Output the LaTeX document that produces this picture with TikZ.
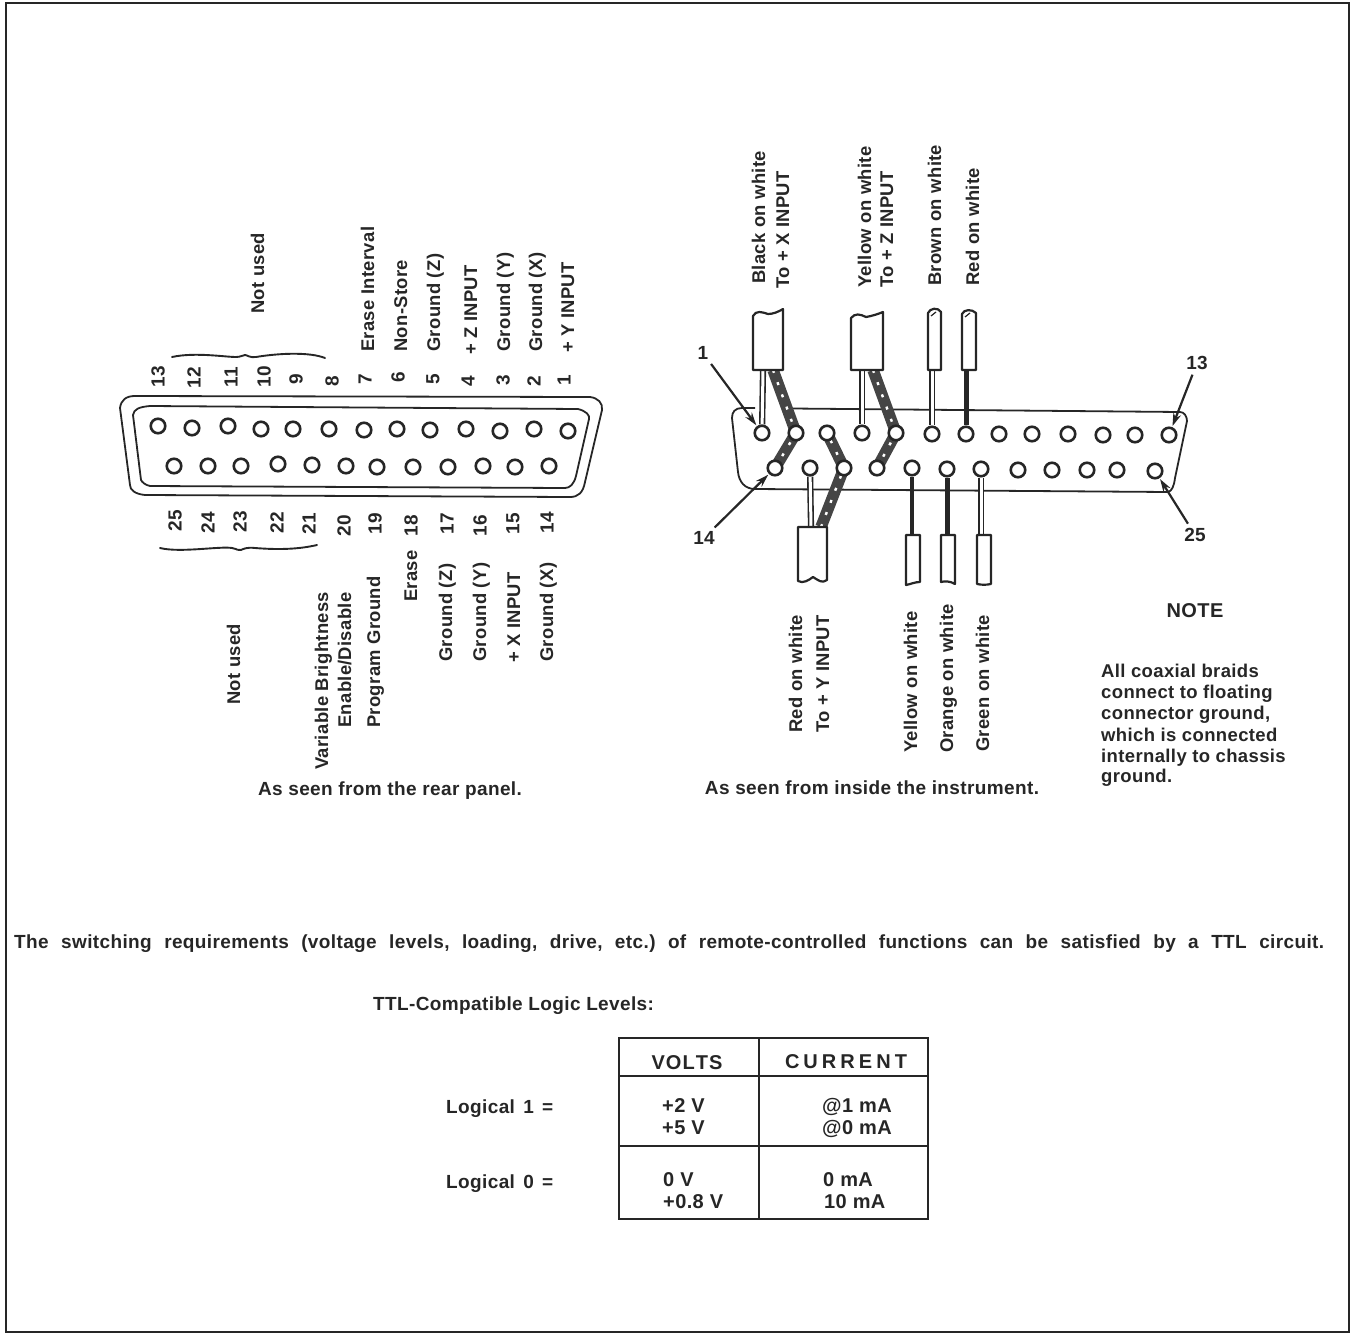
\documentclass[tikz,border=0pt]{standalone}
\usepackage{fontspec}
\setmainfont[LetterSpace=2]{Liberation Sans}
\usetikzlibrary{arrows.meta}
\pgfdeclarelayer{back}
\pgfsetlayers{back,main}
\definecolor{ink}{HTML}{262626}
\definecolor{braidc}{HTML}{454545}
\newcommand\fsz[1]{\fontsize{#1}{#1}\selectfont\bfseries\frenchspacing}
\tikzset{
  ink line/.style={draw=ink,line width=1.8pt,line join=round},
  pin/.style={circle,draw=ink,fill=white,line width=2.6pt,minimum size=14.5pt,inner sep=0pt},
  vlab/.style={rotate=90,anchor=west,inner sep=0pt,text=ink,font=\fsz{18.4},text height=14pt,text depth=0pt},
  num/.style={rotate=90,anchor=center,inner sep=0pt,text=ink,font=\fsz{19}},
  hlab/.style={anchor=west,inner sep=0pt,text=ink,font=\fsz{19},text height=13pt,text depth=0pt},
  nlab/.style={hlab,font=\fsz{18.5}},
  tlab/.style={hlab,font=\fsz{20}},
  clab/.style={anchor=center,inner sep=0pt,text=ink,font=\fsz{19},text height=13pt,text depth=0pt},
  tag/.style={anchor=center,inner sep=1pt,text=ink,font=\fsz{19}},
  lead/.style={draw=ink,line width=2.2pt,-{Stealth[length=13pt,width=8pt]},shorten <=4pt,shorten >=1pt},
  dwire/.style={draw=ink,line width=1.6pt,double=white,double distance=3pt},
  swire/.style={draw=ink,line width=5pt},
  cablebody/.style={draw=ink,fill=white,line width=2.2pt,line join=round},
}
\newcommand\braid[1]{%
  \draw[braidc,line width=11.5pt,line join=round] #1;
  \draw[white,line width=2.4pt,dash pattern=on 3pt off 10pt] #1;}
\begin{document}
\begin{tikzpicture}[x=1pt,y=-1pt]
\useasboundingbox (0,0) rectangle (1354,1335);
% frame
\draw[ink,line width=2.2pt] (6,3) -- (1349,3) -- (1349,1332) -- (6,1332) -- cycle;

% ===== left connector pins =====
\foreach \n/\x/\y in {13/158/426,12/192/428,11/228/426,10/261/429,9/293/429,8/329/429,7/364/430,6/397/429,5/430/430,4/466/429,3/500/431,2/534/429,1/568/431,
 25/174/466,24/208/466,23/241/466,22/278/464,21/312/465,20/346/466,19/377/467,18/413/467,17/448/467,16/483/466,15/515/467,14/549/466}
  \node[pin] (l\n) at (\x,\y) {};
% shell
\draw[ink line] (120,408) .. controls (121,400) and (126,396) .. (135,396) -- (590,397)
  .. controls (598,398) and (603,403) .. (602,410) -- (585,482) .. controls (583,493) and (578,497) .. (570,497)
  -- (145,495) .. controls (135,494) and (130,490) .. (130,485) -- cycle;
\draw[ink line] (133,415) .. controls (134,409) and (139,407) .. (150,406) -- (578,409)
  .. controls (586,411) and (590,415) .. (589,419) -- (576,476) .. controls (574,484) and (570,488) .. (565,488)
  -- (150,486) .. controls (145,485) and (142,482) .. (141,480) -- cycle;
% numbers
\foreach \n/\x/\y in {13/158/377,12/194/378,11/231/377,10/264/377,9/296/379,8/332/381,7/365/379,6/398/377,5/433/379,4/468/381,3/503/380,2/534/381,1/564/380,
 25/175/521,24/208/523,23/240/522,22/277/523,21/309/524,20/344/526,19/375/524,18/411/526,17/447/524,16/480/526,15/513/524,14/547/523}
  \node[num] (ln\n) at (\x,\y) {\n};
% braces
\draw[ink,line width=1.9pt,line cap=round] (172,357) .. controls (195,352) and (225,357) .. (236,357) .. controls (241,357) and (243,355) .. (245,355) .. controls (247,355) and (250,358) .. (256,357) .. controls (280,353) and (310,352) .. (325,358);
\draw[ink,line width=1.9pt,line cap=round] (160,548) .. controls (180,553) and (220,546) .. (232,548) .. controls (237,549) and (239,551) .. (241,550) .. controls (243,549) and (247,547) .. (255,548) .. controls (280,550) and (300,549) .. (317,545);
% top labels
\foreach \t/\x/\y in {Not used/257/314,Erase Interval/367/352,Non-Store/400/352,Ground (Z)/433/352,+ Z INPUT/470/355,Ground (Y)/503/352,Ground (X)/535/352,+ Y INPUT/567/353,
 Not used/233/705,Variable Brightness/321/770,Enable\slash Disable/344/728,Program Ground/373/728,Erase/410/602,Ground (Z)/445/662,Ground (Y)/479/662,+ X INPUT/513/663,Ground (X)/546/662,
 Black on white/758/284,To + X INPUT/782/289,Yellow on white/864/288,To + Z INPUT/886/288,Brown on white/934/286,Red on white/972/286,
 Red on white/795/733,To + Y INPUT/822/733,Yellow on white/910/753,Orange on white/946/753,Green on white/982/752}
  \node[vlab] at (\x,\y) {\t};
\node[clab] (capl) at (390,789) {As seen from the rear panel.};
\node[clab] (capr) at (872,788) {As seen from inside the instrument.};

% ===== right connector pins =====
\foreach \n/\x/\y in {1/762/433,2/796/433,3/827/433,4/862/433,5/896/433,6/932/434,7/966/434,8/999/434,9/1032/434,10/1068/434,11/1103/435,12/1135/435,13/1169/435,
 14/775/468,15/810/468,16/844/468,17/877/468,18/912/468,19/947/469,20/981/469,21/1018/470,22/1052/470,23/1087/470,24/1117/470,25/1155/471}
  \node[pin] (r\n) at (\x,\y) {};
% cable ends (where the wires leave the jackets)
\coordinate (c1c) at (763,370); \coordinate (c1b) at (773,370);
\coordinate (c2c) at (862,370); \coordinate (c2b) at (873,370);
\coordinate (c3c) at (811,527); \coordinate (c3b) at (821,527);
\coordinate (cbr) at (932,370); \coordinate (crd) at (966,370);
\coordinate (cye) at (912,535); \coordinate (cor) at (947,535); \coordinate (cgr) at (981,535);
\begin{pgfonlayer}{back}
  \draw[ink line] (755,489) -- (1168,492) .. controls (1172,491) and (1174,486) .. (1175,478) -- (1187,421)
    .. controls (1187,416) and (1184,412) .. (1180,412) -- (792,408.5);
  \draw[ink line] (755,408) -- (742,408) .. controls (735,408) and (732,412) .. (732,418) -- (738,472) .. controls (739,482) and (745,489) .. (755,489);
  \draw[dwire] (c1c) -- (r1);
  \draw[dwire] (c2c) -- (r4);
  \draw[dwire] (c3c) -- (r15);
  \draw[dwire] (cbr) -- (r6);
  \draw[swire] (crd) -- (r7);
  \draw[swire,line width=4pt] (cye) -- (r18);
  \draw[swire] (cor) -- (r19);
  \draw[dwire] (cgr) -- (r20);
  \braid{(c1b) -- (r2.center) -- (r14.center)}
  \braid{(c2b) -- (r5.center) -- (r17.center)}
  \braid{(c3b) -- (r16.center) -- (r3.center)}
\end{pgfonlayer}
% cable jackets
\draw[cablebody] (753,370) -- (753,316) .. controls (756,310) and (762,312) .. (768,314) .. controls (773,314) and (778,312) .. (783,309) -- (783,370) -- cycle;
\draw[cablebody] (851,370) -- (851,318) .. controls (855,313) and (860,314) .. (866,317) .. controls (872,316) and (878,314) .. (883,312) -- (883,370) -- cycle;
\draw[cablebody] (798,527) -- (827,527) -- (827,580) .. controls (822,584) and (818,580) .. (813,577) .. controls (809,580) and (803,584) .. (798,581) -- cycle;
\draw[cablebody] (928,370) -- (928,313) .. controls (930,308) and (938,307) .. (941,312) -- (941,370) -- cycle;
\draw[ink,line width=1.2pt] (931,316) -- (936,312);
\draw[cablebody] (962,370) -- (962,314) .. controls (964,309) and (972,309) .. (976,313) -- (976,370) -- cycle;
\draw[ink,line width=1.2pt] (965,317) -- (970,313);
\draw[cablebody] (906,535) -- (920,535) -- (920,582) .. controls (915,582) and (911,584) .. (906,585) -- cycle;
\draw[cablebody] (941,535) -- (955,535) -- (955,584) .. controls (950,581) and (945,581) .. (941,582) -- cycle;
\draw[cablebody] (977,535) -- (991,535) -- (991,584) .. controls (986,585) and (982,585) .. (977,584) -- cycle;
% callouts
\node[tag] (t1) at (703,353) {1};
\node[tag] (t14) at (704,538) {14};
\node[tag] (t13) at (1197,363) {13};
\node[tag] (t25) at (1195,535) {25};
\draw[lead] (t1) -- (r1);
\draw[lead] (t14) -- (r14);
\draw[lead] (t13) -- (r13);
\draw[lead] (t25) -- (r25);
% note
\node[clab,font=\fsz{20}] (note) at (1195,611) {NOTE};
\foreach \t/\y in {All coaxial braids/671,connect to floating/692,{connector ground,}/713,which is connected/735,internally to chassis/756,ground./776}
  \node[nlab] at (1101,\y) {\t};
% sentence
\node[hlab] (sent) at (14,942) {\makebox[1310pt][s]{The switching requirements (voltage levels, loading, drive, etc.) of remote-controlled functions can be satisfied by a TTL circuit.}};
\node[hlab] (ttl) at (373,1004) {TTL-Compatible Logic Levels:};
\node[hlab] (lg1) at (446,1107) {\makebox[107pt][s]{Logical 1 =}};
\node[hlab] (lg0) at (446,1182) {\makebox[107pt][s]{Logical 0 =}};
% table
\draw[ink,line width=2.4pt] (619,1038) rectangle (928,1219);
\draw[ink,line width=2.2pt] (619,1076) -- (928,1076);
\draw[ink,line width=2.2pt] (619,1146) -- (928,1146);
\draw[ink,line width=2.2pt] (759,1038) -- (759,1219);
\node[clab,font=\fsz{20}] (tv) at (687,1063) {\makebox[71pt][s]{V\hfil O\hfil L\hfil T\hfil S}};
\node[clab,font=\fsz{20}] (tc) at (846,1062) {\makebox[122pt][s]{C\hfil U\hfil R\hfil R\hfil E\hfil N\hfil T}};
\foreach \t/\x/\y in {+2 V/662/1106,+5 V/662/1128,@1 mA/822/1106,@0 mA/822/1128,0 V/663/1180,+0.8 V/663/1202,0 mA/823/1180,10 mA/824/1202}
  \node[tlab] at (\x,\y) {\t};
\end{tikzpicture}
\end{document}
